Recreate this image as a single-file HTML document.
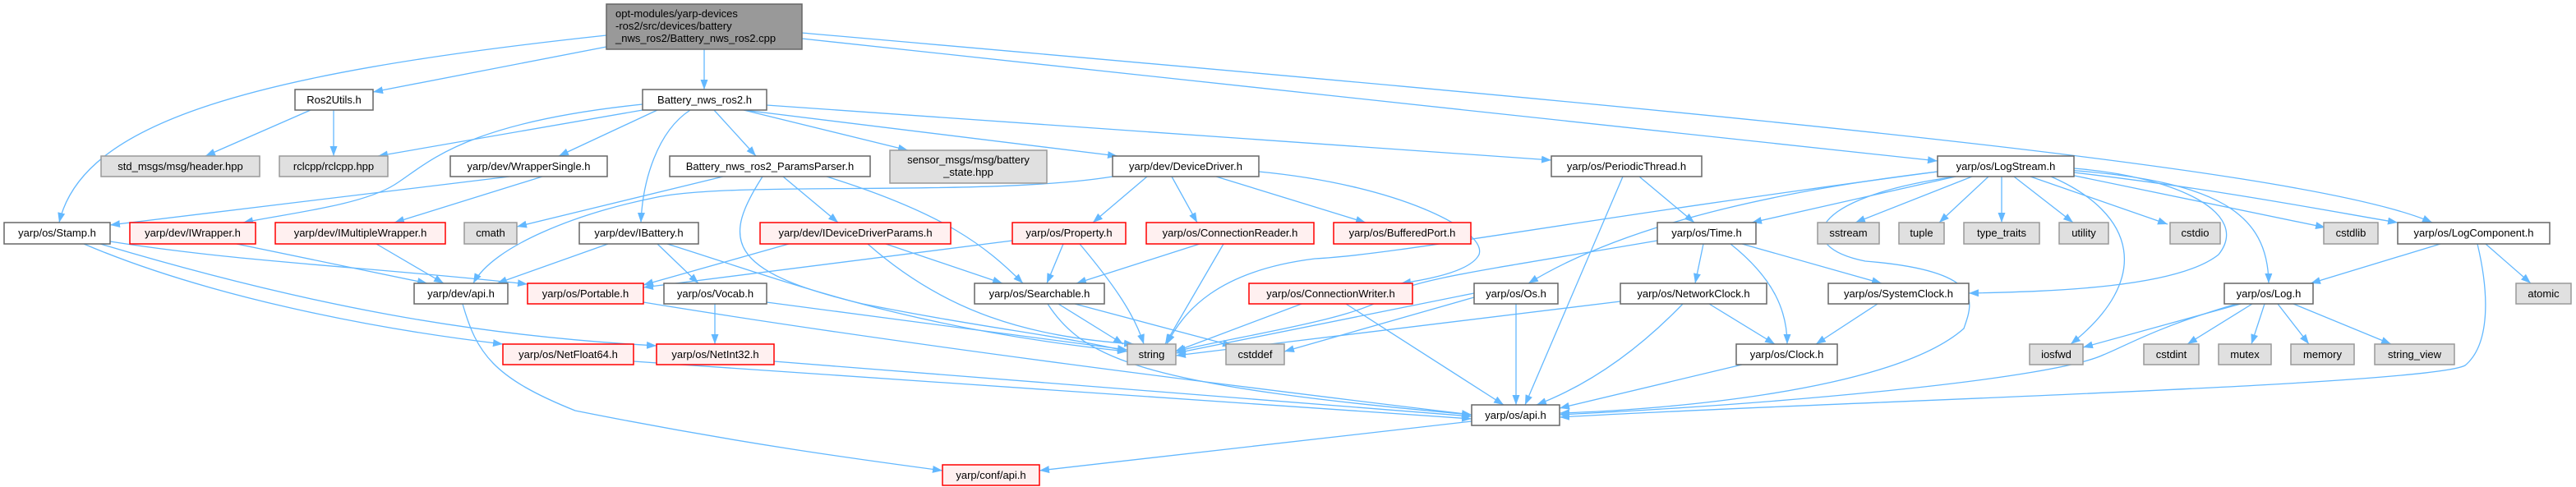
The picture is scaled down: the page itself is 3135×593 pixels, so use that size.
<!DOCTYPE html>
<html><head><meta charset="utf-8"><style>
html,body{margin:0;padding:0;background:#fff;}
svg{display:block;}
text{font-family:"Liberation Sans",sans-serif;font-size:13px;fill:#000;}
.w{fill:#fff;stroke:#666;stroke-width:1.5}
.g{fill:#e0e0e0;stroke:#999;stroke-width:1.5}
.r{fill:#fff0f0;stroke:#f00;stroke-width:1.5}
.m{fill:#999;stroke:#666;stroke-width:1.5}
.e path{fill:none;stroke:#63b8ff;stroke-width:1.3;marker-end:url(#a)}
</style></head><body>
<svg width="3135" height="593" viewBox="0 0 3135 593" xmlns="http://www.w3.org/2000/svg">
<defs><marker id="a" markerWidth="12" markerHeight="10" refX="12" refY="5" orient="auto" markerUnits="userSpaceOnUse"><path d="M0,0.5 L12,5 L0,9.5z" fill="#63b8ff"/></marker></defs>
<g class="e">
<path d="M738,57 L454,112"/>
<path d="M857,60 L857,109"/>
<path d="M738,43 C300,90 100,150 72,271"/>
<path d="M976,47 L2358,196"/>
<path d="M976,40 C2000,130 2800,200 2960,271"/>
<path d="M378,134 L250,190"/>
<path d="M406,134 L406,190"/>
<path d="M782,134 L460,190"/>
<path d="M800,134 L680,190"/>
<path d="M782,127 C560,150 520,200 480,225 S350,260 296,271"/>
<path d="M840,134 C800,160 782,220 780,271"/>
<path d="M869,134 L920,190"/>
<path d="M905,134 L1105,183"/>
<path d="M905,134 L1360,190"/>
<path d="M933,128 L1888,195"/>
<path d="M620,215 L134,274"/>
<path d="M660,215 L480,271"/>
<path d="M880,215 L629,276"/>
<path d="M953,215 L1020,271"/>
<path d="M1006,215 C1150,260 1200,300 1245,345"/>
<path d="M928,215 C880,290 880,330 1050,370 C1200,400 1300,410 1372,428"/>
<path d="M1354,215 C1200,240 900,220 800,240 C700,260 600,300 576,345"/>
<path d="M1396,215 L1330,271"/>
<path d="M1426,215 L1457,271"/>
<path d="M1480,215 L1662,271"/>
<path d="M1532,209 C1700,225 1810,280 1800,310 C1790,330 1740,340 1705,345"/>
<path d="M134,294 C300,320 450,325 642,346"/>
<path d="M122,297 C400,380 600,410 799,421"/>
<path d="M102,297 C250,360 450,400 612,419"/>
<path d="M288,297 L520,345"/>
<path d="M458,297 L540,345"/>
<path d="M740,297 L605,345"/>
<path d="M800,297 L850,345"/>
<path d="M812,297 C950,340 1100,400 1372,428"/>
<path d="M960,297 L783,347"/>
<path d="M1078,297 L1220,345"/>
<path d="M1056,297 C1150,380 1250,410 1380,419"/>
<path d="M1232,293 L783,350"/>
<path d="M1294,297 L1274,345"/>
<path d="M1314,297 C1350,340 1380,380 1392,419"/>
<path d="M1460,297 L1310,345"/>
<path d="M1489,297 L1418,419"/>
<path d="M1584,370 L1430,428"/>
<path d="M1638,370 L1830,493"/>
<path d="M870,370 L870,419"/>
<path d="M933,368 L1372,426"/>
<path d="M783,368 C1100,420 1500,470 1791,505"/>
<path d="M1288,370 L1367,419"/>
<path d="M1308,370 L1500,421"/>
<path d="M1275,370 C1320,440 1400,470 1791,505"/>
<path d="M771,440 L1791,510"/>
<path d="M942,440 L1791,507"/>
<path d="M563,370 C580,430 600,460 700,500 C900,540 1050,560 1147,573"/>
<path d="M1791,513 L1265,573"/>
<path d="M1995,215 L2062,271"/>
<path d="M1975,215 L1856,493"/>
<path d="M2380,215 L2132,271"/>
<path d="M2358,209 C2100,240 1950,290 1860,345"/>
<path d="M2400,215 L2258,271"/>
<path d="M2420,215 L2360,271"/>
<path d="M2436,215 L2436,271"/>
<path d="M2451,215 L2523,271"/>
<path d="M2471,215 L2638,273"/>
<path d="M2520,213 L2830,277"/>
<path d="M2515,209 C2700,230 2850,260 2918,271"/>
<path d="M2515,207 C2700,220 2760,260 2761,345"/>
<path d="M2496,215 C2600,260 2620,340 2520,419"/>
<path d="M2524,205 C2650,215 2740,260 2700,310 C2650,350 2500,355 2396,357"/>
<path d="M2358,209 C1900,270 1700,310 1600,315 C1480,330 1440,380 1420,419"/>
<path d="M2380,215 C2200,240 2180,300 2270,318 C2420,330 2400,370 2390,400 C2300,480 2000,500 1898,503"/>
<path d="M2017,293 C1800,330 1720,340 1690,360 C1650,390 1500,410 1431,428"/>
<path d="M2073,297 L2063,345"/>
<path d="M2106,297 C2160,340 2175,380 2175,419"/>
<path d="M2120,297 L2290,345"/>
<path d="M1794,357 L1431,430"/>
<path d="M1845,370 L1845,493"/>
<path d="M1794,362 L1563,428"/>
<path d="M1972,367 L1431,433"/>
<path d="M2080,370 L2160,419"/>
<path d="M2048,370 C1990,430 1930,470 1870,493"/>
<path d="M2285,370 L2210,419"/>
<path d="M2120,444 L1898,497"/>
<path d="M2970,297 L2812,345"/>
<path d="M3025,297 L3080,345"/>
<path d="M3015,297 C3030,360 3030,420 3000,445 C2950,470 2200,490 1898,508"/>
<path d="M2727,370 L2535,423"/>
<path d="M2741,370 L2662,419"/>
<path d="M2756,370 L2740,419"/>
<path d="M2772,370 L2810,419"/>
<path d="M2791,370 L2910,419"/>
<path d="M2722,370 C2620,400 2590,420 2560,432 C2500,460 2200,490 1898,505"/>
</g>
<!-- nodes -->
<rect class="m" x="738" y="5" width="238" height="55"/>
<text x="749" y="21">opt-modules/yarp-devices</text>
<text x="749" y="36">-ros2/src/devices/battery</text>
<text x="749" y="51">_nws_ros2/Battery_nws_ros2.cpp</text>

<rect class="w" x="359" y="109" width="95" height="25"/><text x="406.5" y="126" text-anchor="middle">Ros2Utils.h</text>
<rect class="w" x="782" y="109" width="151" height="25"/><text x="857.5" y="126" text-anchor="middle">Battery_nws_ros2.h</text>

<rect class="g" x="123" y="190" width="193" height="25"/><text x="219.5" y="207" text-anchor="middle">std_msgs/msg/header.hpp</text>
<rect class="g" x="340" y="190" width="132" height="25"/><text x="406" y="207" text-anchor="middle">rclcpp/rclcpp.hpp</text>
<rect class="w" x="548" y="190" width="191" height="25"/><text x="643.5" y="207" text-anchor="middle">yarp/dev/WrapperSingle.h</text>
<rect class="w" x="815" y="190" width="244" height="25"/><text x="937" y="207" text-anchor="middle">Battery_nws_ros2_ParamsParser.h</text>
<rect class="g" x="1083" y="183" width="191" height="40"/><text x="1178.5" y="199" text-anchor="middle">sensor_msgs/msg/battery</text><text x="1178.5" y="214" text-anchor="middle">_state.hpp</text>
<rect class="w" x="1354" y="190" width="178" height="25"/><text x="1443" y="207" text-anchor="middle">yarp/dev/DeviceDriver.h</text>
<rect class="w" x="1888" y="190" width="183" height="25"/><text x="1979.5" y="207" text-anchor="middle">yarp/os/PeriodicThread.h</text>
<rect class="w" x="2358" y="190" width="166" height="25"/><text x="2441" y="207" text-anchor="middle">yarp/os/LogStream.h</text>

<rect class="w" x="5" y="271" width="129" height="26"/><text x="69.5" y="288" text-anchor="middle">yarp/os/Stamp.h</text>
<rect class="r" x="158" y="271" width="153" height="26"/><text x="234.5" y="288" text-anchor="middle">yarp/dev/IWrapper.h</text>
<rect class="r" x="335" y="271" width="207" height="26"/><text x="438.5" y="288" text-anchor="middle">yarp/dev/IMultipleWrapper.h</text>
<rect class="g" x="565" y="271" width="64" height="26"/><text x="597" y="288" text-anchor="middle">cmath</text>
<rect class="w" x="705" y="271" width="145" height="26"/><text x="777.5" y="288" text-anchor="middle">yarp/dev/IBattery.h</text>
<rect class="r" x="925" y="271" width="232" height="26"/><text x="1041" y="288" text-anchor="middle">yarp/dev/IDeviceDriverParams.h</text>
<rect class="r" x="1232" y="271" width="138" height="26"/><text x="1301" y="288" text-anchor="middle">yarp/os/Property.h</text>
<rect class="r" x="1395" y="271" width="204" height="26"/><text x="1497" y="288" text-anchor="middle">yarp/os/ConnectionReader.h</text>
<rect class="r" x="1623" y="271" width="167" height="26"/><text x="1706.5" y="288" text-anchor="middle">yarp/os/BufferedPort.h</text>
<rect class="w" x="2017" y="271" width="120" height="26"/><text x="2077" y="288" text-anchor="middle">yarp/os/Time.h</text>
<rect class="g" x="2212" y="271" width="75" height="26"/><text x="2249.5" y="288" text-anchor="middle">sstream</text>
<rect class="g" x="2311" y="271" width="55" height="26"/><text x="2338.5" y="288" text-anchor="middle">tuple</text>
<rect class="g" x="2390" y="271" width="92" height="26"/><text x="2436" y="288" text-anchor="middle">type_traits</text>
<rect class="g" x="2506" y="271" width="60" height="26"/><text x="2536" y="288" text-anchor="middle">utility</text>
<rect class="g" x="2641" y="271" width="61" height="26"/><text x="2671.5" y="288" text-anchor="middle">cstdio</text>
<rect class="g" x="2828" y="271" width="66" height="26"/><text x="2861" y="288" text-anchor="middle">cstdlib</text>
<rect class="w" x="2918" y="271" width="185" height="26"/><text x="3010.5" y="288" text-anchor="middle">yarp/os/LogComponent.h</text>

<rect class="w" x="504" y="345" width="114" height="25"/><text x="561" y="362" text-anchor="middle">yarp/dev/api.h</text>
<rect class="r" x="642" y="345" width="141" height="25"/><text x="712.5" y="362" text-anchor="middle">yarp/os/Portable.h</text>
<rect class="w" x="808" y="345" width="125" height="25"/><text x="870.5" y="362" text-anchor="middle">yarp/os/Vocab.h</text>
<rect class="w" x="1186" y="345" width="158" height="25"/><text x="1265" y="362" text-anchor="middle">yarp/os/Searchable.h</text>
<rect class="r" x="1520" y="345" width="199" height="25"/><text x="1619.5" y="362" text-anchor="middle">yarp/os/ConnectionWriter.h</text>
<rect class="w" x="1794" y="345" width="102" height="25"/><text x="1845" y="362" text-anchor="middle">yarp/os/Os.h</text>
<rect class="w" x="1972" y="345" width="178" height="25"/><text x="2061" y="362" text-anchor="middle">yarp/os/NetworkClock.h</text>
<rect class="w" x="2225" y="345" width="171" height="25"/><text x="2310.5" y="362" text-anchor="middle">yarp/os/SystemClock.h</text>
<rect class="w" x="2707" y="345" width="108" height="25"/><text x="2761" y="362" text-anchor="middle">yarp/os/Log.h</text>
<rect class="g" x="3062" y="345" width="67" height="25"/><text x="3095.5" y="362" text-anchor="middle">atomic</text>

<rect class="r" x="612" y="419" width="159" height="25"/><text x="691.5" y="436" text-anchor="middle">yarp/os/NetFloat64.h</text>
<rect class="r" x="799" y="419" width="143" height="25"/><text x="870.5" y="436" text-anchor="middle">yarp/os/NetInt32.h</text>
<rect class="g" x="1372" y="419" width="59" height="25"/><text x="1401.5" y="436" text-anchor="middle">string</text>
<rect class="g" x="1492" y="419" width="71" height="25"/><text x="1527.5" y="436" text-anchor="middle">cstddef</text>
<rect class="w" x="2113" y="419" width="123" height="25"/><text x="2174.5" y="436" text-anchor="middle">yarp/os/Clock.h</text>
<rect class="g" x="2470" y="419" width="65" height="25"/><text x="2502.5" y="436" text-anchor="middle">iosfwd</text>
<rect class="g" x="2609" y="419" width="67" height="25"/><text x="2642.5" y="436" text-anchor="middle">cstdint</text>
<rect class="g" x="2700" y="419" width="64" height="25"/><text x="2732" y="436" text-anchor="middle">mutex</text>
<rect class="g" x="2788" y="419" width="77" height="25"/><text x="2826.5" y="436" text-anchor="middle">memory</text>
<rect class="g" x="2890" y="419" width="97" height="25"/><text x="2938.5" y="436" text-anchor="middle">string_view</text>

<rect class="w" x="1791" y="493" width="107" height="25"/><text x="1844.5" y="510" text-anchor="middle">yarp/os/api.h</text>
<rect class="r" x="1147" y="566" width="118" height="25"/><text x="1206" y="583" text-anchor="middle">yarp/conf/api.h</text>
</svg>
</body></html>
